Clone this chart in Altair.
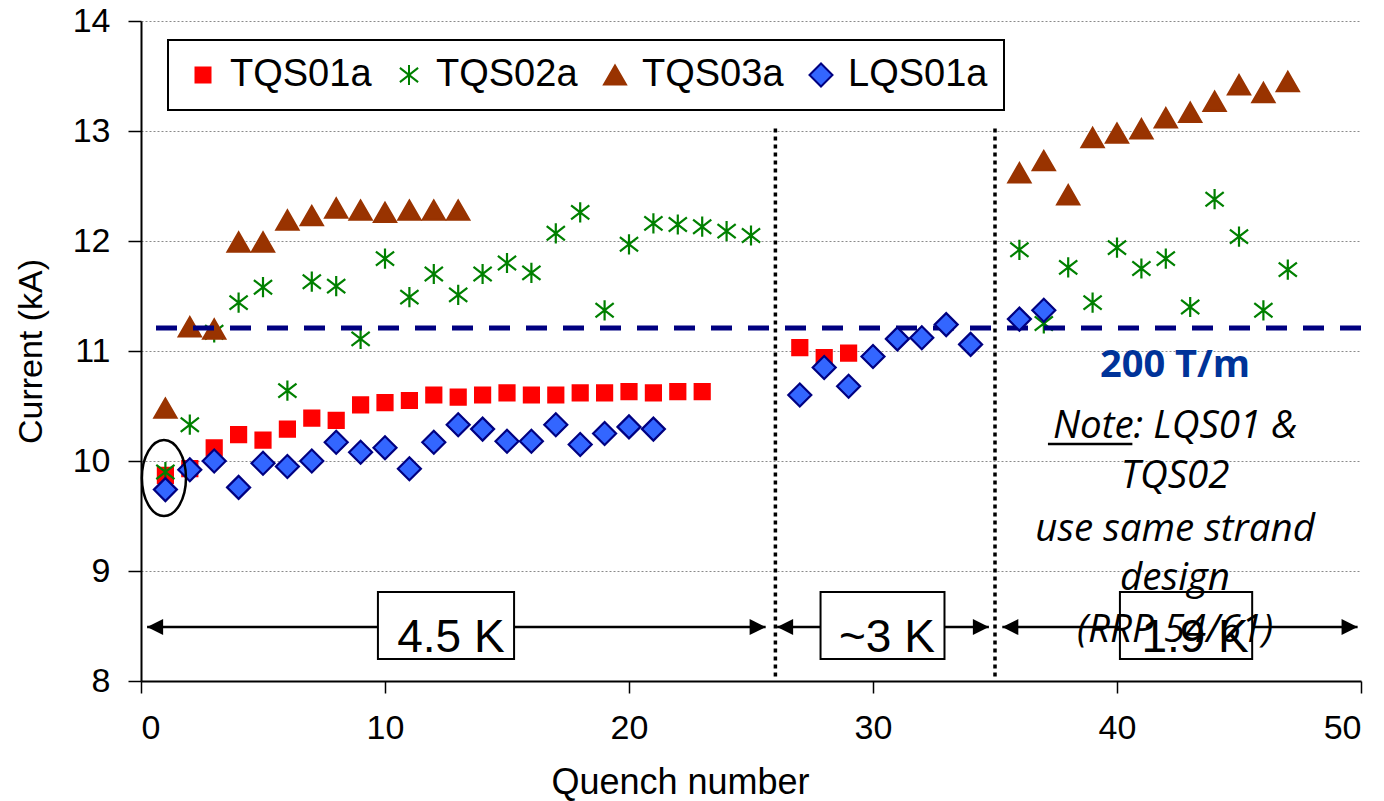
import altair as alt
import pandas as pd

# ---- quench currents (kA) for each magnet ----
q_tqs01a = [1, 2, 3, 4, 5, 6, 7, 8, 9, 10, 11, 12, 13, 14, 15, 16, 17, 18, 19, 20, 21, 22, 23,
            27, 28, 29]
i_tqs01a = [9.87, 9.93, 10.12, 10.24, 10.19, 10.29, 10.39, 10.37, 10.51, 10.53, 10.55, 10.60,
            10.58, 10.60, 10.62, 10.60, 10.60, 10.62, 10.62, 10.63, 10.62, 10.63, 10.63,
            11.03, 10.94, 10.98]

q_tqs02a = [1, 2, 3, 4, 5, 6, 7, 8, 9, 10, 11, 12, 13, 14, 15, 16, 17, 18, 19, 20, 21, 22, 23,
            24, 25, 36, 37, 38, 39, 40, 41, 42, 43, 44, 45, 46, 47]
i_tqs02a = [9.90, 10.33, 11.17, 11.44, 11.58, 10.64, 11.63, 11.59, 11.11, 11.84, 11.49, 11.70,
            11.51, 11.70, 11.80, 11.71, 12.07, 12.26, 11.37, 11.97, 12.16, 12.15, 12.13, 12.09,
            12.05, 11.92, 11.25, 11.76, 11.44, 11.94, 11.75, 11.84, 11.40, 12.38, 12.04, 11.37,
            11.74]

q_tqs03a = [1, 2, 3, 4, 5, 6, 7, 8, 9, 10, 11, 12, 13,
            36, 37, 38, 39, 40, 41, 42, 43, 44, 45, 46, 47]
i_tqs03a = [10.48, 11.22, 11.20, 11.99, 11.99, 12.19, 12.23, 12.30, 12.28, 12.26, 12.28, 12.28,
            12.28, 12.62, 12.73, 12.42, 12.94, 12.98, 13.02, 13.12, 13.17, 13.27, 13.42, 13.35,
            13.45]

q_lqs01a = [1, 2, 3, 4, 5, 6, 7, 8, 9, 10, 11, 12, 13, 14, 15, 16, 17, 18, 19, 20, 21,
            27, 28, 29, 30, 31, 32, 33, 34, 36, 37]
i_lqs01a = [9.74, 9.92, 10.00, 9.76, 9.98, 9.95, 10.00, 10.17, 10.08, 10.12, 9.93, 10.17, 10.33,
            10.29, 10.18, 10.18, 10.33, 10.15, 10.25, 10.31, 10.29,
            10.60, 10.85, 10.68, 10.95, 11.11, 11.12, 11.24, 11.06, 11.29, 11.37]

series_names = ["TQS01a", "TQS02a", "TQS03a", "LQS01a"]

# current corresponding to a 200 T/m gradient
gradient_200_current = 11.21

# temperature regimes: boundaries, arrow spans and labels
phase_boundaries = [26, 35]
boundary_low, boundary_high = 8.04, 13.03
arrow_from = [0.25, 26.07, 35.3]
arrow_to = [25.6, 34.75, 49.86]
arrow_level = 8.49
box_left = [9.71, 27.85, 40.12]
box_right = [15.29, 32.93, 45.54]
box_bottom, box_top = 8.2, 8.81
temp_labels = ["4.5 K", "~3 K", "1.9 K"]
temp_label_x = [12.7, 30.57, 43.2]
temp_label_y = 8.26

# first quench of each magnet, circled
first_quench_x, first_quench_y = 0.94, 9.845

# side note
note_x = 42.38
note_lines = ["Note: LQS01 &", "TQS02", "use same strand", "design", "(RRP 54/61)"]
note_y = [10.209, 9.755, 9.275, 8.827, 8.357]
note_underline = (37.17, 40.63, 10.155)
gradient_label_y = 10.766

# ---- tables ----
frames = []
for name, qs, cs in zip(series_names, [q_tqs01a, q_tqs02a, q_tqs03a, q_lqs01a],
                        [i_tqs01a, i_tqs02a, i_tqs03a, i_lqs01a]):
    frames.append(pd.DataFrame({"quench": qs, "current": cs, "series": name}))
points = pd.concat(frames, ignore_index=True)
points_tqs = points[points["series"] != "LQS01a"]
points_lqs = points[points["series"] == "LQS01a"]

ASTERISK = "M0,-1L0,1M-0.9,-0.7L0.9,0.7M-0.9,0.7L0.9,-0.7"
k = 0.5523
a = 0.58
ELLIPSE = (f"M0,-1C{k*a:.4f},-1 {a},-{k} {a},0C{a},{k} {k*a:.4f},1 0,1"
           f"C-{k*a:.4f},1 -{a},{k} -{a},0C-{a},-{k} -{k*a:.4f},-1 0,-1Z")
HEAD_LEFT = "M0,0L2,-1L2,1Z"
HEAD_RIGHT = "M0,0L-2,-1L-2,1Z"

FONT = "Liberation Sans"

x_scale = alt.Scale(domain=[0, 50], nice=False, zero=False)
y_scale = alt.Scale(domain=[8, 14], nice=False, zero=False)

x_axis = alt.Axis(values=[0, 10, 20, 30, 40, 50], format="d", title="Quench number",
                  grid=False, domainColor="black", domainWidth=2, tickColor="black",
                  tickWidth=1.5, tickSize=12, labelFont=FONT, labelFontSize=34,
                  labelColor="black", labelPadding=18, titleFont=FONT, titleFontSize=36,
                  titleFontWeight="normal", titleColor="black", titlePadding=20,
                  titleX=539, titleAlign="center")
y_axis = alt.Axis(values=[8, 9, 10, 11, 12, 13, 14], format="d", title="Current (kA)",
                  grid=True, gridColor="#8a8a8a", gridDash=[2, 2], gridWidth=1,
                  domainColor="black", domainWidth=2, tickColor="black", tickWidth=1.5,
                  tickSize=13, labelFont=FONT, labelFontSize=34, labelColor="black",
                  labelPadding=18, titleFont=FONT, titleFontSize=34, titleFontWeight="normal",
                  titleColor="black", titlePadding=24)

legend = alt.Legend(title=None, orient="none", legendX=27, legendY=19, direction="horizontal",
                    labelFont=FONT, labelFontSize=38, labelColor="black", labelOffset=8,
                    columnPadding=18, padding=16, fillColor="white", strokeColor="black",
                    symbolStrokeWidth=2, labelLimit=400)

def series_encoding():
    return dict(
        shape=alt.Shape("series:N", scale=alt.Scale(domain=series_names,
                        range=["square", ASTERISK, "triangle-up", "diamond"]), legend=legend),
        fill=alt.Fill("series:N", scale=alt.Scale(domain=series_names,
                      range=["#ff0000", "#008000", "#993300", "#3366ff"]), legend=legend),
        stroke=alt.Stroke("series:N", scale=alt.Scale(domain=series_names,
                          range=["#ff0000", "#008000", "#993300", "#000080"]), legend=legend),
        size=alt.Size("series:N", scale=alt.Scale(type="ordinal", domain=series_names,
                      range=[225, 410, 484, 529]), legend=legend),
    )

X = lambda f: alt.X(f, type="quantitative", scale=x_scale, axis=x_axis)
Y = lambda f: alt.Y(f, type="quantitative", scale=y_scale, axis=y_axis)

# vertical dotted separators between temperature regimes
bounds = alt.Chart(pd.DataFrame({"quench": phase_boundaries, "lo": boundary_low,
                                 "hi": boundary_high})).mark_rule(
    color="black", strokeWidth=3.5, strokeDash=[4, 4]).encode(
    x=X("quench"), y=Y("lo"), y2="hi")

arrows_df = pd.DataFrame({"x0": arrow_from, "x1": arrow_to, "y": arrow_level})
arrow_lines = alt.Chart(arrows_df).mark_rule(color="black", strokeWidth=2.5).encode(
    x=X("x0"), x2="x1", y=Y("y"))
heads_left = alt.Chart(arrows_df).mark_point(shape=HEAD_LEFT, filled=True, color="black",
                                             size=256, opacity=1).encode(x=X("x0"), y=Y("y"))
heads_right = alt.Chart(arrows_df).mark_point(shape=HEAD_RIGHT, filled=True, color="black",
                                              size=256, opacity=1).encode(x=X("x1"), y=Y("y"))

boxes = alt.Chart(pd.DataFrame({"x0": box_left, "x1": box_right, "y0": box_bottom,
                                "y1": box_top})).mark_rect(
    fill="white", stroke="black", strokeWidth=2).encode(
    x=X("x0"), x2="x1", y=Y("y0"), y2="y1")
box_text = alt.Chart(pd.DataFrame({"label": temp_labels, "x": temp_label_x,
                                   "y": temp_label_y})).mark_text(
    font=FONT, fontSize=46, color="black", align="center", baseline="alphabetic").encode(
    x=X("x"), y=Y("y"), text="label:N")

pts_tqs = alt.Chart(points_tqs).mark_point(filled=True, opacity=1, strokeWidth=2.2).encode(
    x=X("quench"), y=Y("current"), **series_encoding())
pts_lqs = alt.Chart(points_lqs).mark_point(filled=True, opacity=1, strokeWidth=2.2).encode(
    x=X("quench"), y=Y("current"), **series_encoding())

gradient_line = alt.Chart(pd.DataFrame({"y": [gradient_200_current]})).mark_rule(
    color="#000080", strokeWidth=5, strokeDash=[21, 16]).encode(y=Y("y"))

ellipse = alt.Chart(pd.DataFrame({"x": [first_quench_x], "y": [first_quench_y]})).mark_point(
    shape=ELLIPSE, filled=False, stroke="black", strokeWidth=2.5, size=5776, opacity=1).encode(
    x=X("x"), y=Y("y"))

gradient_text = alt.Chart(pd.DataFrame({"x": [note_x], "y": [gradient_label_y],
                                        "t": ["200 T/m"]})).mark_text(
    font="Open Sans", fontWeight="bold", fontSize=38, color="#003399", align="center",
    baseline="alphabetic").encode(x=X("x"), y=Y("y"), text="t:N")
note_text = alt.Chart(pd.DataFrame({"x": note_x, "y": note_y, "t": note_lines})).mark_text(
    font="Open Sans", fontStyle="italic", fontSize=38.5, color="black", align="center",
    baseline="alphabetic").encode(x=X("x"), y=Y("y"), text="t:N")
underline = alt.Chart(pd.DataFrame({"x0": [note_underline[0]], "x1": [note_underline[1]],
                                    "y": [note_underline[2]]})).mark_rule(
    color="black", strokeWidth=2.5).encode(x=X("x0"), x2="x1", y=Y("y"))

chart = alt.layer(
    bounds, arrow_lines, heads_left, heads_right, boxes, box_text,
    pts_tqs, gradient_line, pts_lqs, ellipse, gradient_text, note_text, underline
).properties(
    width=1220, height=660,
    padding={"left": 141, "top": 21, "right": 23, "bottom": 120},
    autosize=alt.AutoSizeParams(type="none"),
    background="white",
).configure_view(stroke="transparent").configure_legend(strokeWidth=2)

chart.save("out.html", embed_options={"renderer": "svg", "actions": False})
